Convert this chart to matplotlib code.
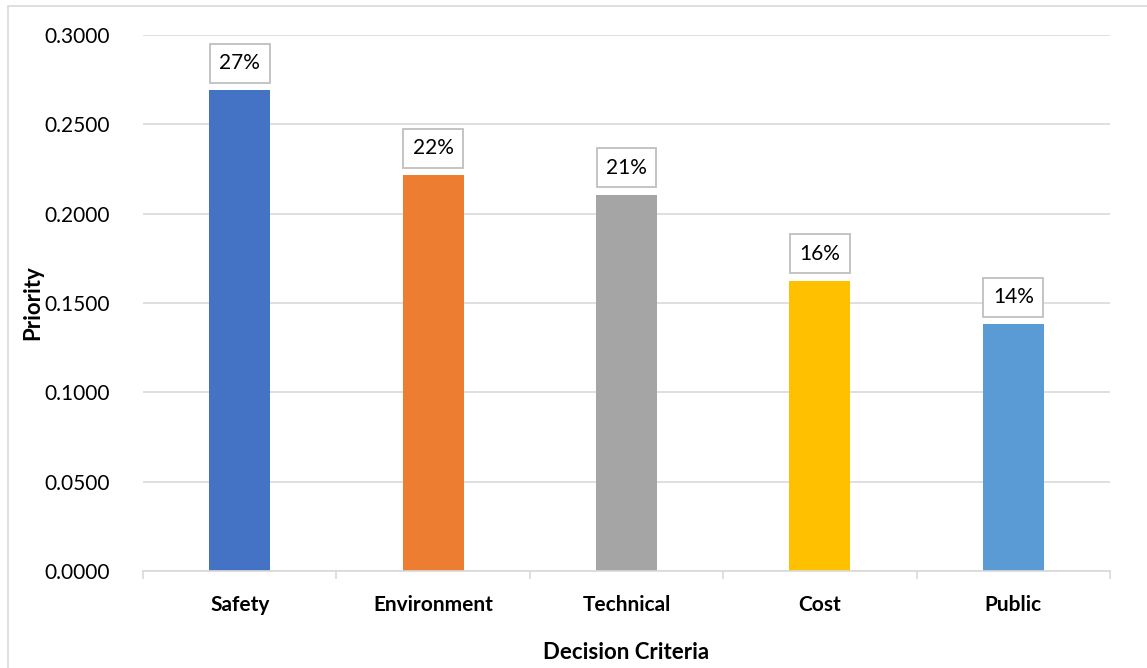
import matplotlib
matplotlib.use("Agg")
import matplotlib.pyplot as plt
from matplotlib.patches import Rectangle
import numpy as np

categories = ["Safety", "Environment", "Technical", "Cost", "Public"]
priority = [0.2690, 0.2215, 0.2105, 0.1625, 0.1380]
colors = ["#4472C4", "#ED7D31", "#A5A5A5", "#FFC000", "#5B9BD5"]
y_ticks = [0.0, 0.05, 0.10, 0.15, 0.20, 0.25, 0.30]

plt.rcParams["font.family"] = ["Lato", "DejaVu Sans"]

fig = plt.figure(figsize=(11.47, 6.68), dpi=100)
ax = fig.add_axes([143 / 1147, 1 - 571 / 668, (1110 - 143) / 1147, (571 - 35) / 668])

# outer chart frame
fig.patches.append(Rectangle((8 / 1147, -0.01), 1.1, 1 - 6 / 668 + 0.01,
                             transform=fig.transFigure, fill=False,
                             edgecolor="#D9D9D9", linewidth=1.2))

x = np.arange(len(categories))
ax.bar(x, priority, width=0.315, color=colors, zorder=3)

for xi, v in zip(x, priority):
    ax.annotate(f"{v * 100:.0f}%", (xi, v), xytext=(0, 19.5), textcoords="offset points",
                ha="center", va="center", fontsize=15, color="#000000",
                bbox=dict(boxstyle="square,pad=0.45", facecolor="white",
                          edgecolor="#BFBFBF", linewidth=1.3), zorder=4)

ax.set_xlim(-0.5, len(categories) - 0.5)
ax.set_ylim(0, 0.30)
ax.set_yticks(y_ticks)
ax.set_yticklabels([f"{t:.4f}" for t in y_ticks], fontsize=15)
ax.set_xticks(x)
ax.set_xticklabels(categories, fontsize=15, fontweight="bold")
ax.set_xticks(np.arange(-0.5, len(categories)), minor=True)
ax.tick_params(axis="x", which="major", length=0, pad=17)
ax.tick_params(axis="x", which="minor", length=6, color="#D9D9D9", width=1.2)
ax.tick_params(axis="y", length=0, pad=24)

ax.grid(axis="y", color="#D9D9D9", linewidth=1.2, zorder=0)
for side in ["top", "right", "left"]:
    ax.spines[side].set_visible(False)
ax.spines["bottom"].set_color("#D9D9D9")
ax.spines["bottom"].set_linewidth(1.2)
ax.spines["bottom"].set_zorder(5)

ax.set_ylabel("Priority", fontsize=16, fontweight="bold", labelpad=1)
ax.set_xlabel("Decision Criteria", fontsize=16, fontweight="bold", labelpad=20)

fig.savefig("out.png", dpi=100)
